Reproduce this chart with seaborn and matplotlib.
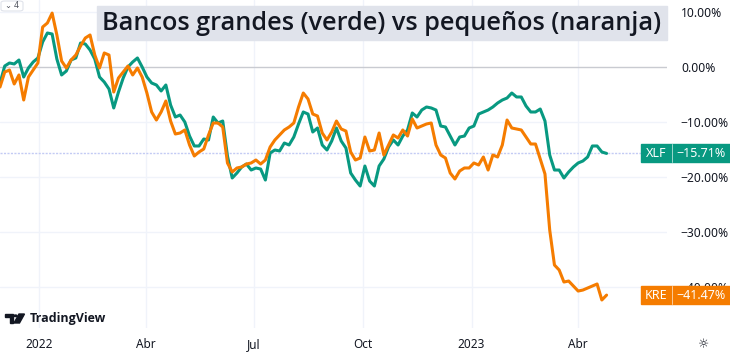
import seaborn as sns
import matplotlib.pyplot as plt
import matplotlib.transforms as mtransforms
from matplotlib.patches import Rectangle, Polygon, Circle, FancyBboxPatch
import pandas as pd

# Datos (variación % desde el inicio, cada 4 días)
start_date = '2021-11-29'
xlf = [-2.91, 0.18, 0.73, 0.55, 1.27, -1.82, -0.18, 0.91, 1.64, 4.55,
       6.18, 6.0, 1.45, -1.45, -0.73, 1.27, 1.64, 4.36, 4.18, 3.09,
       1.45, -1.82, -2.73, -4.0, -7.45, -4.55, -2.0, 0.0, 0.91, 1.64,
       0.0, -1.82, -2.91, -3.27, -4.36, -3.27, -6.91, -9.09, -8.73, -10.0,
       -12.55, -14.36, -14.36, -13.09, -13.27, -9.09, -10.18, -9.82, -16.18, -20.18,
       -19.27, -18.18, -17.64, -18.73, -18.36, -18.55, -20.55, -15.64, -15.09, -15.27,
       -13.82, -14.18, -12.73, -10.36, -8.18, -8.55, -11.82, -11.09, -14.18, -15.09,
       -13.45, -11.09, -13.45, -14.73, -19.27, -20.55, -21.64, -18.0, -20.73, -21.64,
       -18.0, -16.73, -14.55, -13.27, -14.18, -12.55, -11.45, -8.36, -9.09, -7.82,
       -7.27, -7.45, -7.82, -10.73, -10.91, -12.55, -14.18, -12.73, -12.55, -11.09,
       -10.73, -8.55, -8.18, -7.82, -7.27, -6.55, -6.0, -5.64, -4.73, -5.45,
       -5.45, -7.09, -8.18, -8.18, -7.64, -9.82, -16.0, -18.73, -18.73, -20.18,
       -19.09, -18.18, -17.45, -17.09, -16.36, -14.36, -14.36, -15.45, -15.71]
kre = [-3.64, -0.91, -0.55, -3.09, -1.45, -6.0, -1.82, -0.55, 0.73, 7.27,
       8.0, 9.8, 5.82, 1.09, -0.18, 1.27, 2.18, 3.82, 5.27, 5.82,
       2.18, -0.18, 2.55, 2.18, -4.55, -2.0, -0.91, 0.18, -1.45, -0.18,
       -1.82, -4.73, -8.18, -9.64, -8.18, -6.18, -9.82, -12.18, -12.0, -11.45,
       -14.18, -16.18, -15.45, -14.91, -12.36, -10.18, -10.18, -10.91, -17.45, -19.09,
       -18.36, -18.18, -17.64, -17.45, -16.91, -17.64, -16.91, -14.55, -13.27, -12.36,
       -11.45, -10.91, -10.18, -7.27, -4.73, -5.82, -8.55, -8.91, -12.0, -13.27,
       -11.82, -9.82, -11.27, -11.64, -15.45, -16.91, -16.55, -12.73, -15.27, -15.09,
       -12.0, -16.0, -14.18, -12.36, -12.91, -11.45, -12.55, -9.45, -11.09, -10.73,
       -10.36, -10.18, -14.18, -16.0, -16.55, -19.27, -20.36, -18.91, -18.36, -18.36,
       -17.45, -17.82, -16.36, -18.73, -16.0, -16.36, -14.18, -9.64, -11.09, -11.27,
       -11.45, -12.73, -14.0, -14.0, -16.73, -19.45, -29.64, -36.0, -36.91, -39.09,
       -38.91, -39.82, -40.73, -40.55, -40.18, -39.82, -39.45, -42.36, -41.47]

xtick_dates = ['2022-01-01', '2022-04-01', '2022-07-01', '2022-10-01', '2023-01-01', '2023-04-01']
xtick_labels = ['2022', 'Abr', 'Jul', 'Oct', '2023', 'Abr']
ytick_vals = [10, 0, -10, -20, -30, -40]
ytick_labels = ['10.00%', '0.00%', '−10.00%', '−20.00%', '−30.00%', '−40.00%']
title = 'Bancos grandes (verde) vs pequeños (naranja)'

GREEN = '#089981'
ORANGE = '#f57c00'
TEXT = '#131722'

df = pd.DataFrame({
    'fecha': pd.date_range(start_date, periods=len(xlf), freq='4D'),
    'XLF': xlf,
    'KRE': kre,
})

sns.set_style('white')
plt.rcParams['font.family'] = ['Noto Sans', 'DejaVu Sans']

W, H = 730, 358
fig = plt.figure(figsize=(W / 100, H / 100), dpi=100)
ax = fig.add_axes([0, 30 / H, 667 / W, 328 / H])

sns.lineplot(data=df, x='fecha', y='XLF', color=GREEN, linewidth=2.2, ax=ax)
sns.lineplot(data=df, x='fecha', y='KRE', color=ORANGE, linewidth=2.2, ax=ax)

x0 = pd.Timestamp(start_date)
ax.set_xlim(x0, x0 + pd.Timedelta(days=563))
ax.set_ylim(-47.45, 12.18)

# rejilla
for d in xtick_dates:
    ax.axvline(pd.Timestamp(d), color='#f0f3fa', lw=1, zorder=0)
for v in ytick_vals:
    ax.axhline(v, color='#c9cbd1' if v == 0 else '#f0f3fa', lw=1, zorder=0)
ax.axhline(xlf[-1], color='#c3cbf4', lw=1, ls=(0, (1.5, 1)), zorder=0.5)

for s in ax.spines.values():
    s.set_visible(False)
ax.set_xlabel('')
ax.set_ylabel('')

ax.set_xticks([pd.Timestamp(d) for d in xtick_dates])
ax.set_xticklabels(xtick_labels)
ax.tick_params(axis='x', length=0, pad=7, labelsize=8.5, labelcolor=TEXT)
for lab in ax.get_xticklabels():
    if lab.get_text().isdigit():
        lab.set_fontweight('bold')

ax.yaxis.tick_right()
ax.set_yticks(ytick_vals)
ax.set_yticklabels(ytick_labels)
ax.tick_params(axis='y', length=0, pad=10, labelsize=8.7, labelcolor=TEXT)


def px(x, y):
    return (x / W, 1 - y / H)


# etiquetas de último valor
blend = mtransforms.blended_transform_factory(fig.transFigure, ax.transData)
box_h = 18 / 5.5
for name, vals, col in [('XLF', xlf, GREEN), ('KRE', kre, ORANGE)]:
    v = vals[-1]
    fig.patches.append(Rectangle((641 / W, v - box_h / 2), 89 / W, box_h,
                                 transform=blend, color=col, zorder=5))
    fig.lines.append(plt.Line2D([671.5 / W, 671.5 / W], [v - box_h / 2, v + box_h / 2],
                                transform=blend, color='white', lw=0.6, alpha=0.7, zorder=6))
    fig.text(656 / W, v, name, transform=blend, color='white', fontsize=9,
             ha='center', va='center', zorder=7)
    fig.text(701 / W, v, f'{v:.2f}%'.replace('-', '−'), transform=blend, color='white',
             fontsize=9, ha='center', va='center', zorder=7)

# título
fig.patches.append(Rectangle(px(97, 40), 570 / W, 34 / H, transform=fig.transFigure,
                             color='#e0e3eb', zorder=4))
fig.text(*px(382, 23), title, fontsize=18.2, fontweight='semibold', color=TEXT,
         family=['Open Sans', 'DejaVu Sans'],
         ha='center', va='center', zorder=5)

# botón superior izquierdo
fig.patches.append(FancyBboxPatch(px(1, 11), 22 / W, 10 / H, transform=fig.transFigure,
                                  boxstyle='round,pad=0,rounding_size=0.005',
                                  facecolor='white', edgecolor='#e0e3eb', lw=0.8, zorder=4))
fig.text(*px(12, 5), '⌄ 4', fontsize=6, color='#50535e', ha='center', va='center', zorder=5)

# logo TradingView
for poly in [[(5, 314), (13, 314), (13, 323), (9.5, 323), (9.5, 317), (5, 317)],
             [(19, 314), (24.5, 314), (19.5, 323), (14, 323)]]:
    fig.patches.append(Polygon([px(a, b) for a, b in poly], closed=True,
                               transform=fig.transFigure, color=TEXT, zorder=5))
fig.patches.append(Circle(px(15.5, 315.8), 1.6 / W, transform=fig.transFigure,
                          color=TEXT, zorder=5))
fig.text(*px(30, 322), 'TradingView', fontsize=9, fontweight='bold', color=TEXT,
         family=['Open Sans', 'DejaVu Sans'], ha='left', va='baseline', zorder=5)

fig.text(*px(704, 345), '☼', fontsize=9, color=TEXT, ha='center', va='center',
         family=['DejaVu Sans'])

fig.savefig('out.png', dpi=100)
